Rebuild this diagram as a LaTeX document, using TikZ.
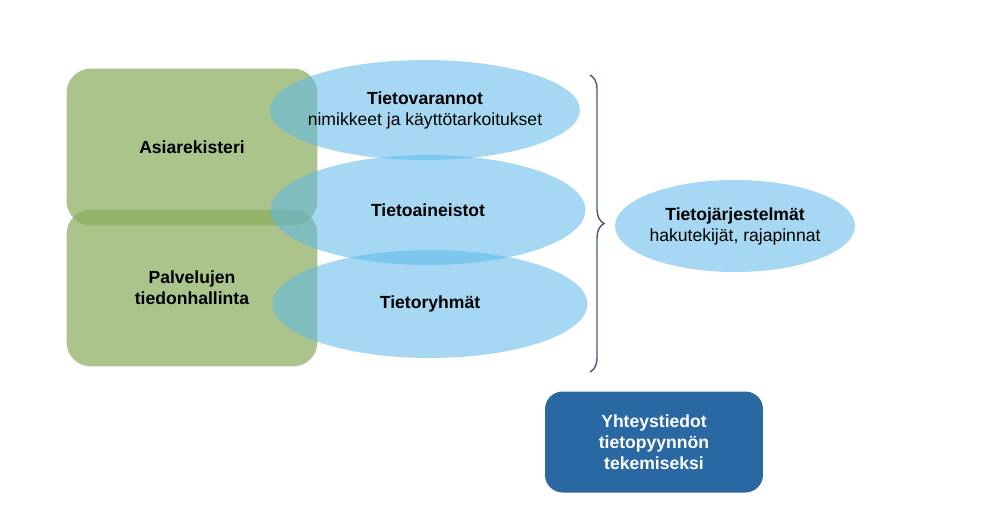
\documentclass[tikz,border=0pt]{standalone}
\usepackage{fontspec}
\setmainfont{Liberation Sans}
\usetikzlibrary{shapes.geometric,decorations.pathreplacing}
\definecolor{leaf}{RGB}{134,171,91}
\definecolor{sky}{RGB}{92,184,233}
\definecolor{navy}{RGB}{42,104,164}
\definecolor{bracecol}{RGB}{70,90,130}
\tikzset{
  greenbox/.style={draw=none,fill=leaf,fill opacity=0.7,rounded corners=14pt,minimum width=5.02cm,minimum height=3.14cm},
  bluedisc/.style={ellipse,draw=none,fill=sky,fill opacity=0.55,minimum width=6.2cm,minimum height=2.0cm},
  lbl/.style={font=\fontsize{10}{12}\selectfont,align=center,text opacity=1}
}
\begin{document}
\begin{tikzpicture}[x=0.02cm,y=-0.02cm]
\useasboundingbox (0,0) rectangle (1000,522);
% green areas
\node[greenbox] (asia) at (192,147) {};
\node[greenbox] (palv) at (192,288) {};
% blue ellipses
\node[bluedisc] (vara) at (425,110) {};
\node[bluedisc,minimum width=6.3cm,minimum height=2.2cm] (aine) at (428,210) {};
\node[bluedisc,minimum width=6.3cm,minimum height=2.16cm] (ryhm) at (430,304) {};
\node[bluedisc,minimum width=4.8cm,minimum height=1.84cm] (jarj) at (735,226) {};
% texts
\node[lbl] at (asia.center) {\textbf{Asiarekisteri}};
\node[lbl] at (palv.center) {\textbf{Palvelujen}\\\textbf{tiedonhallinta}};
\node[lbl] at (vara.center) {\textbf{Tietovarannot}\\nimikkeet ja käyttötarkoitukset};
\node[lbl] at (aine.center) {\textbf{Tietoaineistot}};
\node[lbl] at (ryhm.center) {\textbf{Tietoryhmät}};
\node[lbl] at (jarj.center) {\textbf{Tietojärjestelmät}\\hakutekijät, rajapinnat};
% brace
\coordinate (bt) at (590,75);
\coordinate (bb) at (590,372);
\draw[bracecol,thick,decorate,decoration={brace,amplitude=8pt}] (bt) -- (bb);
% contact box
\node[fill=navy,rounded corners=10pt,minimum width=4.36cm,minimum height=2.02cm,lbl,text=white] (yht) at (654,442) {\textbf{Yhteystiedot}\\\textbf{tietopyynnön}\\\textbf{tekemiseksi}};
\end{tikzpicture}
\end{document}
